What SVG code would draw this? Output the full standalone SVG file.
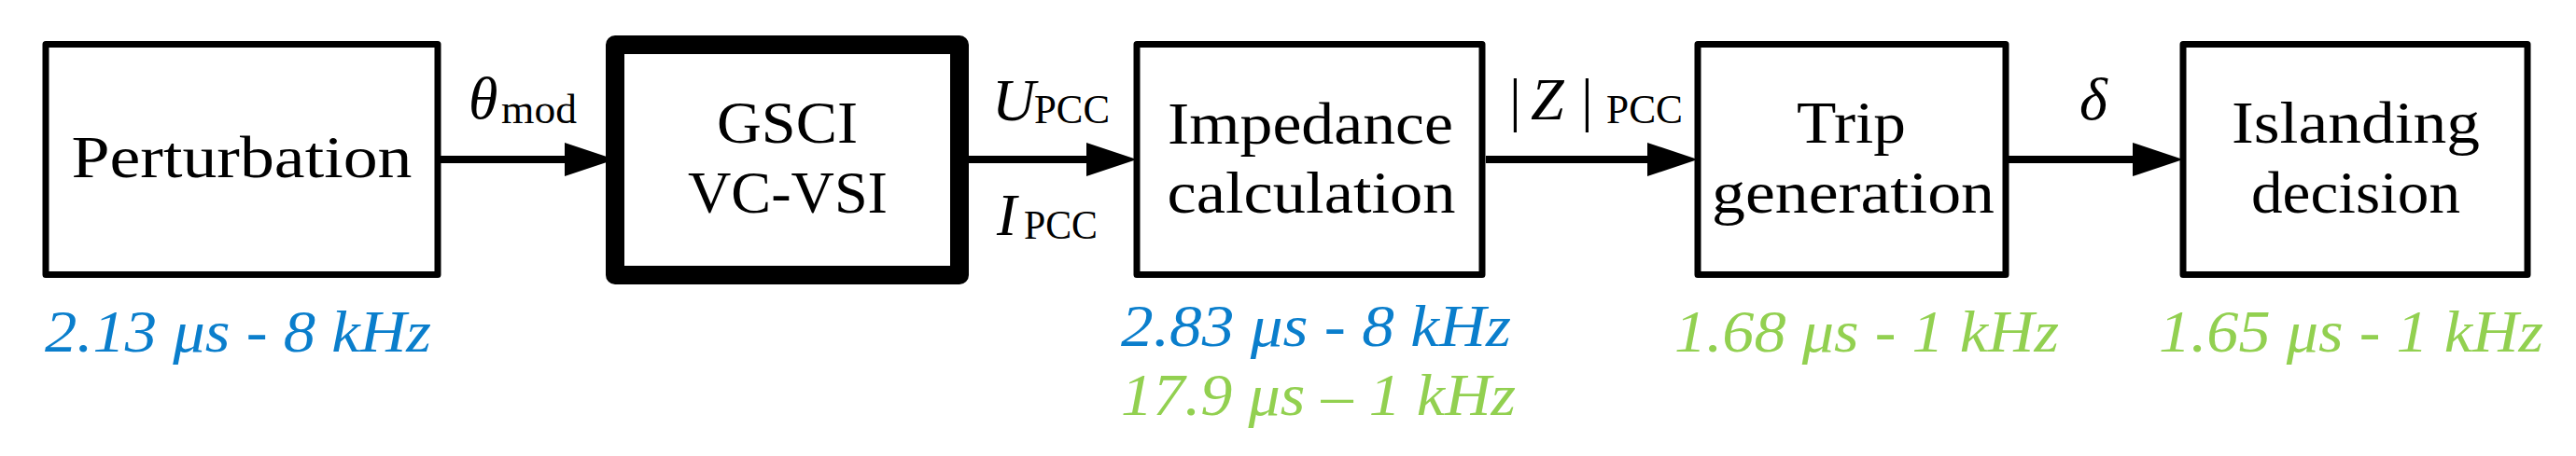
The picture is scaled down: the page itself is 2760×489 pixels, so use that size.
<svg xmlns="http://www.w3.org/2000/svg" width="2760" height="489" viewBox="0 0 2760 489">
<style>
.box{fill:#fff;stroke:#000;stroke-width:7;stroke-linejoin:round}
.thick{stroke-width:20}
.conn{stroke:#000;stroke-width:8;fill:none}
.t{font-family:"Liberation Serif","Times New Roman",serif;font-size:64px;fill:#000;text-anchor:middle}
.m{font-family:"Liberation Serif","Times New Roman",serif;font-size:64px;font-style:italic;fill:#000}
.s{font-family:"Liberation Serif","Times New Roman",serif;font-size:44px;fill:#000}
.r{font-family:"Liberation Serif","Times New Roman",serif;font-size:64px;fill:#000}
.ti{font-family:"Liberation Serif","Times New Roman",serif;font-size:64px;font-style:italic}
.blue{fill:#0A7ECC}
.green{fill:#92D050}
</style>
<defs>
<marker id="arr" markerUnits="userSpaceOnUse" markerWidth="54" markerHeight="36" refX="34" refY="18" orient="auto" viewBox="0 0 54 36">
<path d="M0,0 L54,18 L0,36 Z" fill="#000"/>
</marker>
</defs>
<rect width="2760" height="489" fill="#fff"/>
<g id="connectors">
<line class="conn" x1="472" y1="171" x2="639" y2="171" marker-end="url(#arr)"/>
<line class="conn" x1="1038" y1="171" x2="1198" y2="171" marker-end="url(#arr)"/>
<line class="conn" x1="1592" y1="171" x2="1799" y2="171" marker-end="url(#arr)"/>
<line class="conn" x1="2152" y1="171" x2="2319" y2="171" marker-end="url(#arr)"/>
<text class="m" x="502" y="127" font-size="60">θ</text>
<text class="s" x="537" y="132" textLength="81" lengthAdjust="spacingAndGlyphs">mod</text>
<text class="m" x="1063" y="129">U</text>
<text class="s" x="1108" y="132" textLength="81" lengthAdjust="spacingAndGlyphs">PCC</text>
<text class="m" x="1068" y="252">I</text>
<text class="s" x="1097" y="256" textLength="79" lengthAdjust="spacingAndGlyphs">PCC</text>
<text class="r" x="1617" y="128">|</text>
<text class="m" x="1640" y="128">Z</text>
<text class="r" x="1694" y="128">|</text>
<text class="s" x="1721" y="132" textLength="82" lengthAdjust="spacingAndGlyphs">PCC</text>
<text class="m" x="2228" y="128">δ</text>
</g>
<g id="perturbation">
<rect class="box" x="49" y="47.5" width="420" height="247"/>
<text class="t" x="259" y="190" textLength="365" lengthAdjust="spacingAndGlyphs">Perturbation</text>
<text class="ti blue" x="48" y="377" textLength="414" lengthAdjust="spacingAndGlyphs">2.13 μs - 8 kHz</text>
</g>
<g id="gsci">
<rect class="box thick" x="659" y="48" width="369" height="247"/>
<text class="t" x="843.5" y="153" textLength="151" lengthAdjust="spacingAndGlyphs">GSCI</text>
<text class="t" x="844" y="228" textLength="214" lengthAdjust="spacingAndGlyphs">VC-VSI</text>
</g>
<g id="impedance">
<rect class="box" x="1218" y="47.5" width="370" height="247"/>
<text class="t" x="1404" y="154" textLength="306" lengthAdjust="spacingAndGlyphs">Impedance</text>
<text class="t" x="1405" y="228" textLength="309" lengthAdjust="spacingAndGlyphs">calculation</text>
<text class="ti blue" x="1201" y="371" textLength="418" lengthAdjust="spacingAndGlyphs">2.83 μs - 8 kHz</text>
<text class="ti green" x="1201" y="445" textLength="423" lengthAdjust="spacingAndGlyphs">17.9 μs – 1 kHz</text>
</g>
<g id="trip">
<rect class="box" x="1819" y="47.5" width="330" height="247"/>
<text class="t" x="1983.5" y="153" textLength="117" lengthAdjust="spacingAndGlyphs">Trip</text>
<text class="t" x="1985.5" y="228" textLength="303" lengthAdjust="spacingAndGlyphs">generation</text>
<text class="ti green" x="1794" y="377" textLength="412" lengthAdjust="spacingAndGlyphs">1.68 μs - 1 kHz</text>
</g>
<g id="islanding">
<rect class="box" x="2339" y="47.5" width="369" height="247"/>
<text class="t" x="2524" y="153" textLength="266" lengthAdjust="spacingAndGlyphs">Islanding</text>
<text class="t" x="2524" y="228" textLength="224" lengthAdjust="spacingAndGlyphs">decision</text>
<text class="ti green" x="2313" y="377" textLength="412" lengthAdjust="spacingAndGlyphs">1.65 μs - 1 kHz</text>
</g>
</svg>
